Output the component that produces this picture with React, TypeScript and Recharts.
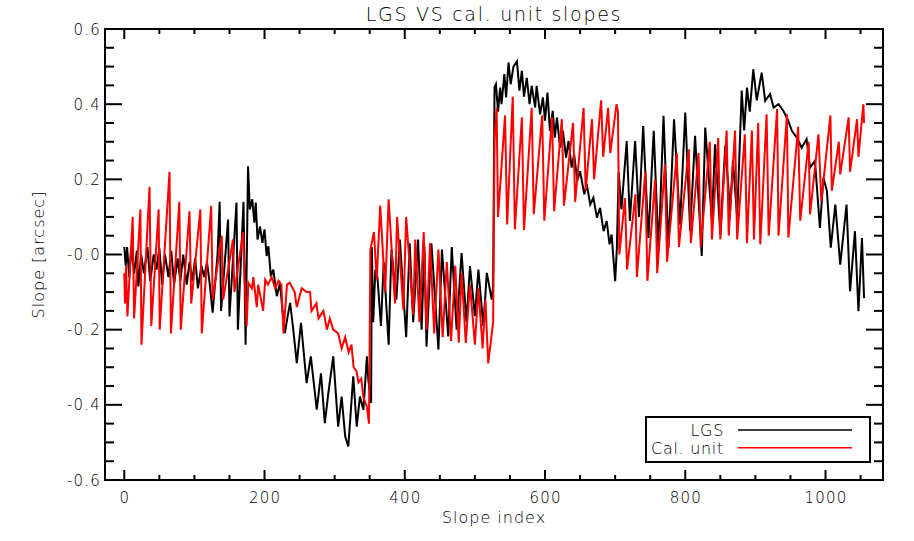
import { Legend, Line, LineChart, XAxis, YAxis } from "recharts";

// [slope index, slope in arcsec] at the turning points
const lgsPoints: [number, number][] = [
  [0, 0.02], [2, -0.03], [4, 0.02], [7, -0.06], [10, 0.02], [14, -0.05], [18, 0.01], [20, -0.085],
  [24, 0.0], [28, -0.05], [33, 0.02], [37, -0.07], [42, 0.0], [46, -0.04], [50, 0.018], [54, -0.08],
  [58, 0.0], [63, -0.06], [67, 0.01], [71, -0.08], [76, -0.01], [80, -0.07], [84, 0.0], [89, -0.08],
  [93, -0.02], [97, -0.07], [101, -0.01], [105, -0.09], [110, -0.03], [114, -0.06], [118, -0.02],
  [122, -0.08], [126, -0.155], [133, 0.0], [136, 0.14], [138, -0.15], [148, 0.093], [150, -0.165],
  [160, 0.138], [162, -0.2], [170, 0.14], [173, -0.24], [176.5, 0.235],
  [179, 0.12], [182.5, 0.147], [185.5, 0.085], [187.5, 0.138], [190, 0.04], [193.5, 0.075], [197, 0.031],
  [200, 0.067], [203, -0.004], [205.5, 0.022], [209, -0.058], [212.5, -0.04], [217.5, -0.111], [222, -0.076],
  [225.5, -0.147], [229, -0.209], [233, -0.164], [236.5, -0.129], [241, -0.2], [246, -0.289], [252, -0.182],
  [260, -0.342], [266, -0.271], [274.5, -0.413], [280.5, -0.316], [286, -0.449], [291, -0.369], [298, -0.271],
  [305, -0.458], [310, -0.378], [315, -0.484], [319.5, -0.511], [323.5, -0.404], [326.5, -0.324],
  [331.5, -0.458], [336, -0.378], [341, -0.413], [346, -0.271], [348, -0.333], [352, -0.395],
  [353, 0.02], [355, -0.18], [358, -0.04], [361, -0.06], [366, -0.19], [370, -0.02], [377, -0.24],
  [381, 0.013], [388, -0.12], [393, 0.04], [402, -0.22], [407, 0.03], [412, -0.18], [419, 0.04],
  [424, -0.2], [428, 0.02], [431, -0.245], [438, 0.03], [448, -0.253], [453, 0.013], [462, -0.218],
  [467, 0.02], [474, -0.2], [481, 0.004], [488, -0.18], [493, -0.031], [500, -0.164], [505, -0.04],
  [512, -0.19], [517, -0.049], [524, -0.12], [526, -0.085],
  [528, 0.445], [530, 0.453], [533, 0.38], [536, 0.444], [538, 0.4], [542, 0.48], [544.5, 0.418],
  [548, 0.511], [551, 0.453], [555, 0.5], [560, 0.514], [563.5, 0.436], [567, 0.489], [570, 0.42],
  [574, 0.47], [578, 0.4], [581, 0.449], [586, 0.391], [588, 0.449], [593, 0.373], [597, 0.418],
  [600, 0.356], [603.5, 0.431], [607, 0.329], [611, 0.382], [614, 0.311], [617, 0.364], [621.5, 0.284],
  [625.5, 0.329], [630, 0.258], [633.5, 0.302], [638, 0.231], [641.5, 0.267], [646, 0.196], [650, 0.222],
  [656, 0.16], [659.5, 0.187], [664.5, 0.133], [669, 0.151], [674, 0.098], [678.5, 0.124], [683.5, 0.062],
  [688, 0.089], [692, 0.027], [695, 0.053], [700, -0.071], [702.5, 0.018],
  [705, 0.218], [709, 0.12], [716.5, 0.302], [721, 0.089], [728.5, 0.302], [734, 0.1], [740, 0.342],
  [747.5, 0.044], [755, 0.329], [762, 0.009], [769, 0.369], [776, 0.018], [784, 0.36], [792.5, 0.08],
  [800, 0.378], [807, 0.062], [814, 0.316], [823.5, -0.004], [828.5, 0.338], [838, 0.089], [842.5, 0.293],
  [850, 0.053], [857, 0.289], [864, 0.116], [868, 0.25], [874, 0.098], [880.5, 0.436], [884, 0.33],
  [888, 0.444], [892, 0.38], [897, 0.493], [902, 0.41], [909, 0.484], [914, 0.409], [921, 0.427],
  [926, 0.391], [933, 0.4], [940, 0.382], [946, 0.36], [952, 0.329], [959, 0.311], [966, 0.284],
  [973, 0.307], [978, 0.231], [985, 0.249], [992, 0.071], [997, 0.204], [1002, 0.169], [1007.5, 0.018],
  [1014, 0.133], [1021, -0.027], [1030, 0.133], [1035, -0.098], [1042, 0.062], [1047, -0.151],
  [1052, 0.044], [1055, -0.116],
];

const calPoints: [number, number][] = [
  [0, -0.05], [1, -0.13], [2.5, -0.03], [4.5, -0.165], [12, 0.1], [14, -0.17], [23, 0.12], [24.5, -0.24],
  [36, 0.18], [38.5, -0.19], [49, 0.12], [50.5, -0.2], [64.5, 0.22], [66.5, -0.21], [78.5, 0.14],
  [80.5, -0.2], [93, 0.115], [95.5, -0.13], [108.5, 0.12], [110.5, -0.21], [124, 0.13], [126, -0.12],
  [139, 0.05], [141, -0.12], [155, 0.04], [157, -0.1], [169.5, 0.06], [171.5, -0.06], [174.5, -0.19],
  [177, -0.075], [182, -0.09], [184, -0.06], [189, -0.14], [191, -0.08], [198, -0.15], [201, -0.067],
  [205, -0.08], [210, -0.06], [215, -0.09], [220, -0.07], [224, -0.08], [227, -0.21], [232, -0.08],
  [236, -0.075], [243, -0.1], [246, -0.14], [253, -0.09], [260, -0.1], [265, -0.1], [267, -0.15],
  [274, -0.13], [277, -0.17], [284, -0.15], [289, -0.2], [293, -0.17], [298, -0.2], [305, -0.21],
  [310, -0.25], [315, -0.22], [320, -0.26], [324, -0.24], [327, -0.3], [331, -0.31], [334, -0.34],
  [338, -0.33], [341, -0.38], [346, -0.405], [349, -0.45],
  [351, 0.013], [356, 0.06], [360, -0.067], [365, 0.13], [372, -0.1], [377, 0.147], [386, -0.13],
  [389, 0.1], [398, -0.147], [402, 0.1], [412, -0.16], [415, 0.04], [421, -0.18], [427, 0.06],
  [431, -0.2], [436, 0.03], [442, -0.21], [448, 0.013], [454, -0.22], [460, -0.02], [466, -0.23],
  [472, -0.03], [477, -0.235], [481, -0.05], [487, -0.235], [493, -0.08], [500, -0.24], [505, -0.09],
  [511, -0.25], [515, -0.12], [519, -0.29], [526, -0.18],
  [528, 0.3], [531, 0.39], [533, 0.1], [543, 0.37], [546, 0.08], [554, 0.42], [557, 0.067], [567, 0.365],
  [570, 0.065], [581, 0.39], [584, 0.107], [596, 0.37], [599, 0.09], [610, 0.365], [613, 0.115],
  [624, 0.36], [627, 0.13], [640, 0.35], [643, 0.14], [655, 0.39], [658, 0.17], [667, 0.36], [670, 0.2],
  [680, 0.41], [683, 0.26], [690, 0.39], [693, 0.27], [702, 0.4], [704, 0.38],
  [706, 0.0], [714, 0.15], [717, -0.04], [729, 0.16], [731, -0.06], [743, 0.22], [746, -0.07],
  [757, 0.2], [760, -0.05], [771, 0.24], [774, -0.02], [788, 0.27], [791, 0.02], [805, 0.28],
  [808, 0.03], [819, 0.27], [822, 0.02], [835, 0.3], [838, 0.04], [847, 0.31], [850, 0.04], [859, 0.33],
  [862, 0.05], [871, 0.33], [874, 0.04], [885, 0.32], [888, 0.03], [895, 0.33], [898, 0.04], [904, 0.35],
  [907, 0.027], [916, 0.373], [919, 0.05], [931, 0.387], [933, 0.05], [945, 0.373], [947, 0.045],
  [961, 0.34], [964, 0.09], [976, 0.3], [978, 0.107], [990, 0.32], [994, 0.142], [1007, 0.37],
  [1009, 0.17], [1019, 0.3], [1021, 0.213], [1033, 0.365], [1035, 0.22], [1045, 0.36], [1047, 0.26],
  [1054, 0.4], [1055, 0.35],
];

const seriesNames = ["LGS", "Cal. unit"];
const xMajorTicks = [0, 200, 400, 600, 800, 1000];
const xMinorTicks = [
  0, 50, 100, 150, 200, 250, 300, 350, 400, 450, 500, 550, 600, 650, 700, 750, 800, 850, 900, 950,
  1000, 1050,
];
const yMajorTicks = [0.6, 0.4, 0.2, 0, -0.2, -0.4, -0.6];
const yTickLabels = ["0.6", "0.4", "0.2", "-0.0", "-0.2", "-0.4", "-0.6"];
const yMinorTicks = [
  0.6, 0.55, 0.5, 0.45, 0.4, 0.35, 0.3, 0.25, 0.2, 0.15, 0.1, 0.05, 0, -0.05, -0.1, -0.15, -0.2,
  -0.25, -0.3, -0.35, -0.4, -0.45, -0.5, -0.55, -0.6,
];

const lgsData = lgsPoints.map(([idx, slope]) => ({ idx, slope }));
const calData = calPoints.map(([idx, slope]) => ({ idx, slope }));

const FONT = "'DejaVu Sans', sans-serif";
const X_DOMAIN: [number, number] = [-27.5, 1082];
const Y_DOMAIN: [number, number] = [-0.6, 0.6];
const frame = { stroke: "#000", strokeWidth: 2, strokeLinecap: "square" as const };

const majorY = (v: number) => yMajorTicks.findIndex((m) => Math.abs(m - v) < 1e-6);

const BottomTick = ({ x, y, payload }: any) => {
  const major = xMajorTicks.includes(payload.value);
  return (
    <g>
      <line x1={x} x2={x} y1={y} y2={y - (major ? 10 : 5)} stroke="#000" strokeWidth={2} />
      {major && (
        <text x={x + 0.6} y={y + 23} textAnchor="middle" fontFamily={FONT} fontSize={15}
          fontWeight={300} letterSpacing={1.2} fill="#000">
          {payload.value}
        </text>
      )}
    </g>
  );
};

const TopTick = ({ x, y, payload }: any) => {
  const major = xMajorTicks.includes(payload.value);
  return <line x1={x} x2={x} y1={y} y2={y + (major ? 10 : 5)} stroke="#000" strokeWidth={2} />;
};

const LeftTick = ({ x, y, payload }: any) => {
  const m = majorY(payload.value);
  return (
    <g>
      <line x1={x} x2={x + (m >= 0 ? 17 : 9)} y1={y} y2={y} stroke="#000" strokeWidth={2} />
      {m >= 0 && (
        <text x={x - 4} y={y + 5.5} textAnchor="end" fontFamily={FONT} fontSize={15}
          fontWeight={300} letterSpacing={1.2} fill="#000">
          {yTickLabels[m]}
        </text>
      )}
    </g>
  );
};

const RightTick = ({ x, y, payload }: any) => {
  const m = majorY(payload.value);
  return <line x1={x} x2={x - (m >= 0 ? 17 : 9)} y1={y} y2={y} stroke="#000" strokeWidth={2} />;
};

const LegendBox = ({ payload }: any) => {
  const entries = [...(payload ?? [])].sort(
    (a: any, b: any) => seriesNames.indexOf(a.value) - seriesNames.indexOf(b.value),
  );
  return (
    <svg width={226} height={47} style={{ display: "block" }}>
      <rect x={1} y={1} width={224} height={45} fill="#fff" stroke="#000" strokeWidth={2} />
      {entries.map((entry: any, i: number) => (
        <g key={entry.value}>
          <text x={79} y={20 + i * 18.3} textAnchor="end" fontFamily={FONT} fontSize={16}
            fontWeight={300} letterSpacing={0.7} fill="#000">
            {entry.value}
          </text>
          <line x1={93} x2={207} y1={14 + i * 17.7} y2={14 + i * 17.7} stroke={entry.color}
            strokeWidth={1.6} />
        </g>
      ))}
    </svg>
  );
};

const textStyle = { fontFamily: FONT, fontWeight: 300, fill: "#000" };

export default function App() {
  return (
    <div style={{ position: "absolute", left: 0, top: 0, width: 914, height: 541, background: "#fff" }}>
      <LineChart width={914} height={541} margin={{ top: 28, right: 30, bottom: 21, left: 45 }}>
        <XAxis xAxisId="b" type="number" dataKey="idx" domain={X_DOMAIN} allowDataOverflow
          ticks={xMinorTicks} interval={0} tick={BottomTick} tickLine={false} tickSize={0}
          tickMargin={0} height={40} axisLine={frame}
          label={{ value: "Slope index", position: "insideBottom", offset: -3, fontSize: 16,
            letterSpacing: 1, ...textStyle }} />
        <XAxis xAxisId="t" orientation="top" type="number" dataKey="idx" domain={X_DOMAIN}
          allowDataOverflow ticks={xMinorTicks} interval={0} tick={TopTick} tickLine={false}
          tickSize={0} tickMargin={0} height={1} axisLine={frame}
          label={{ value: "LGS VS cal. unit slopes", position: "top", offset: 7.5, fontSize: 19,
            letterSpacing: 1.7, ...textStyle }} />
        <YAxis yAxisId="l" type="number" domain={Y_DOMAIN} allowDataOverflow ticks={yMinorTicks}
          interval={0} tick={LeftTick} tickLine={false} tickSize={0} tickMargin={0} width={60}
          axisLine={frame}
          label={{ value: "Slope [arcsec]", angle: -90, position: "insideLeft", offset: -6.5,
            fontSize: 16, letterSpacing: 1, style: { textAnchor: "middle" }, ...textStyle }} />
        <YAxis yAxisId="r" orientation="right" type="number" domain={Y_DOMAIN} allowDataOverflow
          ticks={yMinorTicks} interval={0} tick={RightTick} tickLine={false} tickSize={0}
          tickMargin={0} width={1} axisLine={frame} />
        <Line data={lgsData} xAxisId="b" yAxisId="l" dataKey="slope" name={seriesNames[0]}
          type="linear" stroke="#000000" strokeWidth={2} dot={false} isAnimationActive={false} />
        <Line data={calData} xAxisId="b" yAxisId="l" dataKey="slope" name={seriesNames[1]}
          type="linear" stroke="#ff0000" strokeWidth={2} dot={false} isAnimationActive={false} />
        <Legend content={LegendBox} layout="horizontal" verticalAlign="middle" align="center"
          wrapperStyle={{ left: 645, top: 416, width: 226, height: 47 }} />
      </LineChart>
    </div>
  );
}
